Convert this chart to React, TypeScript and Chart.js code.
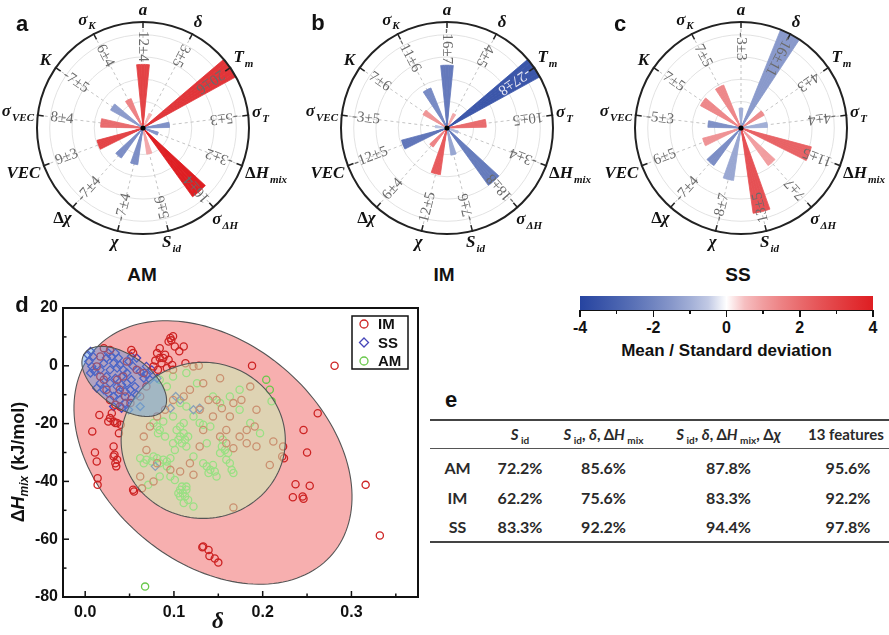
import React, { useEffect, useRef } from 'react';
import { Chart, registerables } from 'chart.js';
Chart.register(...registerables);

// ---------- Data ----------
const FEATURE_MAIN = ['a', 'δ', 'T', 'σ', 'ΔH', 'σ', 'S', 'χ', 'Δχ', 'VEC', 'σ', 'K', 'σ'];
const FEATURE_SUB = ['', '', 'm', 'T', 'mix', 'ΔH', 'id', '', '', '', 'VEC', '', 'K'];

const AM_MEAN = [12, 3, 20, -5, -3, 16, 5, -7, -7, 9, 8, -7, 6];
const AM_STD = [4, 5, 6, 3, 2, 4, 6, 4, 4, 3, 4, 5, 4];
const IM_MEAN = [-16, 4, -27, 10, -3, -18, -7, 12, 6, -12, -3, 7, -11];
const IM_STD = [7, 5, 8, 5, 4, 8, 6, 5, 4, 5, 5, 6, 6];
const SS_MEAN = [-3, -16, 4, -4, 11, 7, 13, -8, -7, 6, -5, 7, 7];
const SS_STD = [3, 11, 3, 4, 5, 7, 5, 7, 4, 5, 3, 5, 5];

const COLORBAR_MAJOR = [-4, -2, 0, 2, 4];
const COLORBAR_MINOR = [-3, -1, 1, 3];

const IM_POINTS: number[][] = [
  [0.281, 0], [0.316, -41.2], [0.332, -58.7], [0.262, -16.4], [0.246, -22.2], [0.25, -30], [0.253, -41.5],
  [0.245, -45.2], [0.246, -46], [0.234, -45.5], [0.237, -41], [0.223, -27.9], [0.222, -31.4], [0.224, -32],
  [0.188, 0], [0.167, -49], [0.132, -62.8], [0.139, -63.7], [0.14, -65.8], [0.146, -66.7], [0.15, -68.1], [0.133, -62.5],
  [0.008, -22.7], [0.011, -30], [0.013, -33.1], [0.014, -38.9], [0.014, -41.2], [0.016, -17], [0.054, -42.9], [0.055, -43.5],
  [0.032, -27.9], [0.033, -30.8], [0.034, -33.7], [0.035, -34.8], [0.036, -32.5], [0.032, -31.4], [0.034, -19.8],
  [0.03, -16.4], [0.028, -18.1], [0.026, -19.3], [0.032, -19.3], [0.038, -23.3], [0.036, -19.8], [0.04, -20.4],
  [0.096, 9.6], [0.099, 10.2], [0.094, 8.4], [0.097, 8.8], [0.081, 4.4], [0.084, 6.1], [0.079, 1.8], [0.084, 2.7],
  [0.088, 2.7], [0.09, 3.8], [0.094, 2.1], [0.098, 0.3], [0.086, 0.9], [0.101, 6.7], [0.106, 5.0], [0.111, 6.7],
  [0.113, 0.9], [0.077, -0.2], [0.082, -1.4], [0.092, -0.8], [0.099, -1.4], [0.021, 6.1], [0.028, 5.5], [0.052, 5.5], [0.054, 4.4],
  [0.122, -0.2], [0.128, 0], [0.133, -6], [0.152, -4.3], [0.167, -12.9], [0.176, -11.8], [0.186, -7.2], [0.193, -15.2],
  [0.191, -21], [0.193, -27.9], [0.182, -26.8], [0.174, -24.5], [0.163, -17.5], [0.159, -22.2], [0.154, -14.7],
  [0.148, -11.8], [0.139, -11.8], [0.144, -17.5], [0.133, -22.2], [0.129, -27.9], [0.118, -33.7], [0.122, -37.7],
  [0.107, -36.6], [0.096, -36], [0.081, -33.7], [0.069, -29.1], [0.066, -24.5], [0.073, -21], [0.081, -17.5],
  [0.09, -15.2], [0.099, -11.8], [0.111, -10.6], [0.118, -8.3], [0.129, -15.2], [0.062, -38.3], [0.064, -42.4],
  [0.077, -40], [0.159, -26.8], [0.167, -28.5], [0.152, -24.5], [0.208, -34.3], [0.212, -26.2], [0.182, -22.2],
  [0.017, 3.2], [0.013, -0.2], [0.017, -3.7], [0.024, -8.3], [0.028, -11.8], [0.034, -13.5], [0.039, -14.1],
  [0.051, -12.9], [0.062, -10.6], [0.069, -7.2], [0.066, -2.5], [0.058, -1.4], [0.047, 1.5], [0.039, -8.3],
  [0.045, -10.6], [0.021, -4.8], [0.036, -4.8], [0.043, -3.7],
];

const SS_POINTS: number[][] = [
  [0.003, 3.8], [0.006, 5], [0.009, 3.2], [0.004, 1.5], [0.0075, -0.2], [0.011, -2], [0.017, -1.4], [0.021, 0.9],
  [0.024, 2.7], [0.026, 4.4], [0.03, 3.2], [0.034, 4.4], [0.0375, 2.7], [0.032, 0.9], [0.028, -1.4], [0.036, -0.8],
  [0.039, 0.3], [0.043, -1.4], [0.047, -2.5], [0.041, -3.7], [0.034, -4.3], [0.028, -6], [0.024, -3.7], [0.036, -7.2],
  [0.041, -6.6], [0.047, -6], [0.052, -4.8], [0.056, -7.2], [0.051, -8.3], [0.045, -8.9], [0.0375, -9.5], [0.032, -10.6],
  [0.039, -11.8], [0.045, -12.9], [0.052, -11.2], [0.058, -10], [0.017, -6], [0.013, -7.7], [0.021, -8.3], [0.026, -9.5],
  [0.054, -0.2], [0.062, -2], [0.069, -0.2], [0.049, 1.5], [0.052, 3.2], [0.058, 2.7], [0.066, -4.3], [0.069, -3.1],
  [0.075, -1.4], [0.073, -4.8], [0.081, -4.3], [0.041, -14.7], [0.049, -15.2], [0.032, -14.1], [0.009, -1.4],
  [0.006, -2.5], [0.062, -14.1], [0.102, -10.6], [0.107, -11.8], [0.096, -14.7], [0.079, -34.8], [0.122, -15.2], [0.129, -14.7],
];

const AM_POINTS: number[][] = [
  [0.107, -42.9], [0.11, -44.1], [0.1125, -45.2], [0.114, -42.9], [0.107, -45.2], [0.111, -47.5], [0.109, -41.8],
  [0.116, -46.4], [0.122, -48.7], [0.105, -44.1], [0.114, -41.8],
  [0.103, -22.2], [0.107, -24.5], [0.111, -23.3], [0.1125, -25.6], [0.109, -26.8], [0.105, -25.6], [0.114, -27.9],
  [0.107, -21], [0.111, -19.8], [0.116, -24.5], [0.099, -26.8], [0.101, -29.1],
  [0.062, -32], [0.069, -32.5], [0.075, -33.1], [0.081, -32], [0.084, -33.7], [0.088, -32.5], [0.092, -33.1],
  [0.096, -32], [0.077, -31.4], [0.092, -34.8], [0.066, -33.7],
  [0.133, -33.7], [0.137, -34.8], [0.141, -36], [0.144, -34.3], [0.146, -36.6], [0.148, -38.3], [0.139, -37.1],
  [0.154, -27.9], [0.1575, -29.1], [0.161, -30.2], [0.159, -32.5], [0.163, -33.7], [0.165, -36], [0.167, -37.1],
  [0.155, -25.6], [0.152, -30.2],
  [0.077, -19.8], [0.081, -21], [0.084, -22.2], [0.088, -19.3], [0.082, -23.3], [0.09, -24.5],
  [0.084, -4.8], [0.092, -7.2], [0.099, -3.7], [0.114, -2.5], [0.126, -6], [0.144, -10.6], [0.152, -12.9],
  [0.163, -10.6], [0.174, -8.3], [0.204, -4.8], [0.208, -8.3], [0.21, -12.3], [0.174, -15.2], [0.186, -19.8],
  [0.197, -23.3], [0.129, -19.8], [0.133, -20.4], [0.141, -21], [0.122, -17.5], [0.114, -14.1], [0.107, -12.9],
  [0.099, -17.5], [0.137, -26.8], [0.122, -31.4], [0.096, -38.3], [0.084, -38.3], [0.071, -41.2], [0.101, -39.5],
  [0.0675, -76.4],
];

// ellipse: [centerX, centerY, axis1X, axis1Y, axis2X, axis2Y] in data units
const IM_ELLIPSE = [0.144, -30, 0.135, -35.0, -0.0795, -29.2];
const AM_ELLIPSE = [0.133, -25.8, 0.0925, 0, 0, 27];
const SS_ELLIPSE = [0.044, -5.4, 0.0447, -9.67, -0.01664, -7.32];

const X_TICKS = [0, 0.1, 0.2, 0.3];
const X_MINOR = [0.05, 0.15, 0.25, 0.35];
const Y_TICKS = [20, 0, -20, -40, -60, -80];
const Y_MINOR = [10, -10, -30, -50, -70];

const TABLE_ROWS = ['AM', 'IM', 'SS'];
const TABLE_VALUES = [
  ['72.2%', '85.6%', '87.8%', '95.6%'],
  ['62.2%', '75.6%', '83.3%', '92.2%'],
  ['83.3%', '92.2%', '94.4%', '97.8%'],
];

// ---------- helpers ----------
const BLUE_END = [38, 68, 160];
const RED_END = [222, 30, 34];
function ratioColor(r: number) {
  const t = Math.min(1, Math.abs(r) / 4);
  const s = Math.pow(t, 0.6);
  const e = r < 0 ? BLUE_END : RED_END;
  const c = e.map((v) => Math.round(255 + (v - 255) * s));
  return `rgb(${c[0]},${c[1]},${c[2]})`;
}

const SERIF = '"Liberation Serif", "Times New Roman", serif';
const SANS = 'Arial, "Liberation Sans", sans-serif';

function PolarPanel({ means, stds, left }: { means: number[]; stds: number[]; left: number }) {
  const ref = useRef<HTMLCanvasElement>(null);
  useEffect(() => {
    const canvas = ref.current!;
    const n = means.length;
    const slot = 360 / n;
    const SUBS = 12; // sub-slices per feature slot
    const WEDGE_SUBS = 5; // sub-slices used by a bar
    const subAngle = slot / SUBS;
    const maxAbs = Math.max(...means.map((v) => Math.abs(v)));
    const data: number[] = [];
    const colors: string[] = [];
    const borders: number[] = [];
    for (let i = 0; i < n; i++) {
      const col = ratioColor(means[i] / stds[i]);
      for (let j = 0; j < SUBS; j++) {
        const on = j < WEDGE_SUBS;
        data.push(on ? Math.abs(means[i]) : 0);
        colors.push(on ? col : 'rgba(0,0,0,0)');
        borders.push(on ? 0.8 : 0);
      }
    }
    const decor = {
      id: 'polarDecor',
      beforeDatasetsDraw(chart: any) {
        const s = chart.scales.r;
        const ctx = chart.ctx;
        const cx = s.xCenter, cy = s.yCenter, R = s.drawingArea;
        ctx.save();
        ctx.setLineDash([3, 3]);
        ctx.strokeStyle = '#c4c4c4';
        ctx.lineWidth = 1;
        for (let i = 0; i < n; i++) {
          const a = (i * slot * Math.PI) / 180;
          ctx.beginPath();
          ctx.moveTo(cx, cy);
          ctx.lineTo(cx + R * Math.sin(a), cy - R * Math.cos(a));
          ctx.stroke();
        }
        ctx.restore();
      },
      afterDatasetsDraw(chart: any) {
        const s = chart.scales.r;
        const ctx = chart.ctx;
        const cx = s.xCenter, cy = s.yCenter, R = s.drawingArea;
        ctx.save();
        ctx.beginPath();
        ctx.arc(cx, cy, R, 0, Math.PI * 2);
        ctx.lineWidth = 2;
        ctx.strokeStyle = '#222';
        ctx.stroke();
        for (let i = 0; i < n; i++) {
          const a = (i * slot * Math.PI) / 180;
          const sa = Math.sin(a), ca = Math.cos(a);
          ctx.beginPath();
          ctx.lineWidth = 1.5;
          ctx.strokeStyle = '#222';
          ctx.moveTo(cx + (R - 6) * sa, cy - (R - 6) * ca);
          ctx.lineTo(cx + (R + 1) * sa, cy - (R + 1) * ca);
          ctx.stroke();
          // value text along spoke
          const txt = `${means[i]}±${stds[i]}`;
          const tr = 0.77 * R;
          ctx.save();
          ctx.translate(cx + tr * sa, cy - tr * ca);
          ctx.rotate(Math.atan2(ca, -sa));
          ctx.font = `15px ${SERIF}`;
          ctx.textAlign = 'center';
          ctx.textBaseline = 'middle';
          const onDark = Math.abs(means[i]) / maxAbs > 0.7 && means[i] / stds[i] < -2;
          ctx.fillStyle = onDark ? '#e8e8f4' : '#6a6a6a';
          ctx.fillText(txt, 0, 0);
          ctx.restore();
          // feature label (Greek capital Delta upright, rest italic)
          const label = FEATURE_MAIN[i];
          const hasDelta = label.startsWith('Δ');
          const deltaPart = hasDelta ? 'Δ' : '';
          const restPart = hasDelta ? label.slice(1) : label;
          const deltaFont = `bold 17px ${SERIF}`;
          const mainFont = `italic bold 17px ${SERIF}`;
          const subFont = `italic bold 11px ${SERIF}`;
          ctx.font = deltaFont;
          const wd = deltaPart ? ctx.measureText(deltaPart).width : 0;
          ctx.font = mainFont;
          const wm = ctx.measureText(restPart).width;
          ctx.font = subFont;
          const ws = FEATURE_SUB[i] ? ctx.measureText(FEATURE_SUB[i]).width + 1 : 0;
          const w = wd + wm + ws;
          const h = 17;
          const d = R + 3 + (w / 2) * Math.abs(sa) + (h / 2) * Math.abs(ca);
          const lx = cx + d * sa - w / 2;
          const ly = cy - d * ca - (FEATURE_SUB[i] ? 1 : 0);
          ctx.fillStyle = '#111';
          ctx.textAlign = 'left';
          ctx.textBaseline = 'middle';
          if (deltaPart) {
            ctx.font = deltaFont;
            ctx.fillText(deltaPart, lx, ly);
          }
          ctx.font = mainFont;
          ctx.fillText(restPart, lx + wd, ly);
          if (FEATURE_SUB[i]) {
            ctx.font = subFont;
            ctx.fillText(FEATURE_SUB[i], lx + wd + wm + 1, ly + 6);
          }
        }
        ctx.beginPath();
        ctx.arc(cx, cy, 2.6, 0, Math.PI * 2);
        ctx.fillStyle = '#000';
        ctx.fill();
        ctx.restore();
      },
    };
    const chart = new Chart(canvas, {
      type: 'polarArea',
      data: {
        labels: data.map((_, i) => String(i)),
        datasets: [
          {
            data,
            backgroundColor: colors,
            borderColor: colors,
            borderWidth: borders,
          } as any,
        ],
      },
      options: {
        animation: false,
        responsive: false,
        maintainAspectRatio: false,
        layout: { padding: { left: 42, right: 42, top: 22, bottom: 28 } },
        plugins: { legend: { display: false }, tooltip: { enabled: false } },
        scales: {
          r: {
            min: 0,
            max: maxAbs,
            startAngle: -(WEDGE_SUBS / 2) * subAngle,
            ticks: { display: false },
            grid: { color: '#e2e2e2', lineWidth: 1 },
            angleLines: { display: false },
            pointLabels: { display: false },
            afterBuildTicks: (sc: any) => {
              sc.ticks = [0, 0.25, 0.46, 0.67, 0.88].map((f) => ({ value: f * maxAbs }));
            },
          } as any,
        },
      } as any,
      plugins: [decor],
    });
    return () => chart.destroy();
  }, [means, stds]);
  return (
    <canvas
      ref={ref}
      width={296}
      height={262}
      style={{ position: 'absolute', left, top: 0, width: 296, height: 262 }}
    />
  );
}

function drawEllipse(chart: any, e: number[], fill: string) {
  const xs = chart.scales.x, ys = chart.scales.y;
  const ctx = chart.ctx;
  ctx.save();
  ctx.beginPath();
  for (let k = 0; k <= 160; k++) {
    const t = (k / 160) * Math.PI * 2;
    const x = e[0] + e[2] * Math.cos(t) + e[4] * Math.sin(t);
    const y = e[1] + e[3] * Math.cos(t) + e[5] * Math.sin(t);
    const px = xs.getPixelForValue(x), py = ys.getPixelForValue(y);
    if (k === 0) ctx.moveTo(px, py);
    else ctx.lineTo(px, py);
  }
  ctx.closePath();
  ctx.fillStyle = fill;
  ctx.fill();
  ctx.strokeStyle = '#555';
  ctx.lineWidth = 1.1;
  ctx.stroke();
  ctx.restore();
}

function ScatterPanel() {
  const ref = useRef<HTMLCanvasElement>(null);
  useEffect(() => {
    const canvas = ref.current!;
    const deco = {
      id: 'scatterDeco',
      beforeDatasetsDraw(chart: any) {
        drawEllipse(chart, IM_ELLIPSE, 'rgba(238,80,80,0.46)');
      },
      afterDatasetsDraw(chart: any) {
        drawEllipse(chart, AM_ELLIPSE, 'rgba(200,245,185,0.52)');
        drawEllipse(chart, SS_ELLIPSE, 'rgba(80,145,220,0.42)');
      },
      afterDraw(chart: any) {
        const ctx = chart.ctx;
        const a = chart.chartArea;
        const xs = chart.scales.x, ys = chart.scales.y;
        ctx.save();
        ctx.strokeStyle = '#111';
        ctx.lineWidth = 2;
        ctx.strokeRect(a.left, a.top, a.right - a.left, a.bottom - a.top);
        ctx.lineWidth = 1.5;
        const tick = (x1: number, y1: number, x2: number, y2: number) => {
          ctx.beginPath();
          ctx.moveTo(x1, y1);
          ctx.lineTo(x2, y2);
          ctx.stroke();
        };
        X_TICKS.forEach((v) => { const p = xs.getPixelForValue(v); tick(p, a.bottom, p, a.bottom - 6); });
        X_MINOR.forEach((v) => { const p = xs.getPixelForValue(v); tick(p, a.bottom, p, a.bottom - 3.5); });
        Y_TICKS.forEach((v) => { const p = ys.getPixelForValue(v); tick(a.left, p, a.left + 6, p); });
        Y_MINOR.forEach((v) => { const p = ys.getPixelForValue(v); tick(a.left, p, a.left + 3.5, p); });
        // legend box
        const bw = 56, bh = 53;
        const bx = a.right - 10 - bw, by = a.top + 8;
        ctx.lineWidth = 1.5;
        ctx.strokeStyle = '#111';
        ctx.fillStyle = '#fff';
        ctx.fillRect(bx, by, bw, bh);
        ctx.strokeRect(bx, by, bw, bh);
        chart.data.datasets.forEach((ds: any, i: number) => {
          const yy = by + 8 + i * 18.5;
          const mx = bx + 12;
          ctx.strokeStyle = ds.pointBorderColor;
          ctx.lineWidth = 1.3;
          ctx.beginPath();
          if (ds.pointStyle === 'rectRot') {
            ctx.moveTo(mx, yy - 4.5); ctx.lineTo(mx + 4.5, yy); ctx.lineTo(mx, yy + 4.5); ctx.lineTo(mx - 4.5, yy); ctx.closePath();
          } else {
            ctx.arc(mx, yy, 4, 0, Math.PI * 2);
          }
          ctx.stroke();
          ctx.fillStyle = '#111';
          ctx.font = `bold 15px ${SANS}`;
          ctx.textAlign = 'left';
          ctx.textBaseline = 'middle';
          ctx.fillText(ds.label, bx + 26, yy + 1);
        });
        ctx.restore();
      },
    };
    const mk = (pts: number[][]) => pts.map(([x, y]) => ({ x, y }));
    const chart = new Chart(canvas, {
      type: 'scatter',
      data: {
        datasets: [
          { label: 'IM', data: mk(IM_POINTS), pointStyle: 'circle', pointRadius: 3.6, pointBorderColor: 'rgb(205,35,35)', pointBackgroundColor: 'rgba(0,0,0,0)', pointBorderWidth: 1.3 },
          { label: 'SS', data: mk(SS_POINTS), pointStyle: 'rectRot', pointRadius: 4, pointBorderColor: 'rgb(70,70,185)', pointBackgroundColor: 'rgba(0,0,0,0)', pointBorderWidth: 1.3 },
          { label: 'AM', data: mk(AM_POINTS), pointStyle: 'circle', pointRadius: 3.6, pointBorderColor: 'rgb(105,200,75)', pointBackgroundColor: 'rgba(0,0,0,0)', pointBorderWidth: 1.3 },
        ] as any,
      },
      options: {
        animation: false,
        responsive: false,
        maintainAspectRatio: false,
        layout: { padding: { top: 18, right: 12, left: 0, bottom: 0 } },
        plugins: { legend: { display: false }, tooltip: { enabled: false } },
        scales: {
          x: {
            type: 'linear',
            min: -0.025,
            max: 0.375,
            grid: { display: false, drawTicks: false },
            border: { display: false },
            afterBuildTicks: (s: any) => { s.ticks = X_TICKS.map((v) => ({ value: v })); },
            afterFit: (s: any) => { s.height = 38; },
            ticks: { padding: 6, autoSkip: false, maxRotation: 0, color: '#111', font: { family: SANS, size: 16, weight: 'bold' }, callback: (v: any) => Number(v).toFixed(1) },
          },
          y: {
            type: 'linear',
            min: -80,
            max: 20,
            grid: { display: false, drawTicks: false },
            border: { display: false },
            afterBuildTicks: (s: any) => { s.ticks = Y_TICKS.map((v) => ({ value: v })); },
            afterFit: (s: any) => { s.width = 63; },
            ticks: { padding: 5, autoSkip: false, color: '#111', font: { family: SANS, size: 16, weight: 'bold' }, callback: (v: any) => String(v) },
          },
        },
      } as any,
      plugins: [deco],
    });
    return () => chart.destroy();
  }, []);
  return (
    <canvas ref={ref} width={430} height={345} style={{ position: 'absolute', left: 0, top: 290, width: 430, height: 345 }} />
  );
}

function Colorbar() {
  const x0 = 580, x1 = 873, top = 296, h = 14;
  const stops: string[] = [];
  for (let v = -4; v <= 4.001; v += 0.5) {
    stops.push(`${ratioColor(v)} ${((v + 4) / 8) * 100}%`);
  }
  const px = (v: number) => x0 + ((v + 4) / 8) * (x1 - x0);
  return (
    <>
      <div style={{ position: 'absolute', left: x0, top, width: x1 - x0, height: h, background: `linear-gradient(to right, ${stops.join(', ')})`, borderBottom: '1.5px solid #111' }} />
      {COLORBAR_MAJOR.map((v) => (
        <React.Fragment key={'M' + v}>
          <div style={{ position: 'absolute', left: px(v) - 0.75, top: top + h, width: 1.5, height: 7, background: '#111' }} />
          <div style={{ position: 'absolute', left: px(v) - 20, top: top + h + 9, width: 40, textAlign: 'center', font: `bold 16px ${SANS}`, color: '#111' }}>{String(v)}</div>
        </React.Fragment>
      ))}
      {COLORBAR_MINOR.map((v) => (
        <div key={'m' + v} style={{ position: 'absolute', left: px(v) - 0.75, top: top + h, width: 1.5, height: 4, background: '#111' }} />
      ))}
      <div style={{ position: 'absolute', left: x0 - 20, top: 341, width: x1 - x0 + 40, textAlign: 'center', font: `bold 17px ${SANS}`, color: '#111' }}>Mean / Standard deviation</div>
    </>
  );
}

const subStyle: React.CSSProperties = { fontSize: 10, verticalAlign: 'sub', lineHeight: 0 };

function ResultTable() {
  const TABLE_FONT = 'Lato, "Open Sans", sans-serif';
  const colW = [55, 70, 97, 153, 86];
  const cell: React.CSSProperties = { textAlign: 'center', padding: 0, whiteSpace: 'nowrap' };
  const header = [
    '',
    <span><i>S</i><span style={subStyle}> id</span></span>,
    <span><i>S</i><span style={subStyle}> id</span>, <i>δ</i>, Δ<i>H</i><span style={subStyle}> mix</span></span>,
    <span><i>S</i><span style={subStyle}> id</span>, <i>δ</i>, Δ<i>H</i><span style={subStyle}> mix</span>, Δ<i>χ</i></span>,
    '13 features',
  ];
  return (
    <table style={{ position: 'absolute', left: 430, top: 419, width: 461, borderCollapse: 'collapse', tableLayout: 'fixed', font: `bold 15px ${TABLE_FONT}`, color: '#2a2a2a' }}>
      <colgroup>{colW.map((w, i) => <col key={i} style={{ width: w }} />)}</colgroup>
      <thead>
        <tr style={{ borderTop: '2px solid #444', borderBottom: '1.5px solid #555', height: 28 }}>
          {header.map((h, i) => (
            <th key={i} style={{ ...cell, fontWeight: 'bold', textAlign: i === 4 ? 'left' : 'center', paddingLeft: i === 4 ? 3 : 0 }}>{h}</th>
          ))}
        </tr>
      </thead>
      <tbody>
        {TABLE_ROWS.map((r, ri) => (
          <tr key={r} style={{ height: ri === 0 ? 34 : 30, borderBottom: ri === TABLE_ROWS.length - 1 ? '2px solid #444' : 'none' }}>
            <td style={{ ...cell, paddingTop: ri === 0 ? 4 : 0, fontSize: 16 }}>{r}</td>
            {TABLE_VALUES[ri].map((v, ci) => (
              <td key={ci} style={{ ...cell, paddingTop: ri === 0 ? 4 : 0, fontSize: 16 }}>{v}</td>
            ))}
          </tr>
        ))}
      </tbody>
    </table>
  );
}

export default function App() {
  const letter = (t: string, x: number, y: number) => (
    <div style={{ position: 'absolute', left: x - 10, top: y - 13, width: 20, textAlign: 'center', font: `bold 22px ${SANS}`, color: '#111' }}>{t}</div>
  );
  const title = (t: string, x: number) => (
    <div style={{ position: 'absolute', left: x - 40, top: 264, width: 80, textAlign: 'center', font: `bold 19px ${SANS}`, color: '#111' }}>{t}</div>
  );
  return (
    <div style={{ position: 'absolute', left: 0, top: 0, width: 889, height: 635, overflow: 'hidden', background: '#fff' }}>
      <PolarPanel means={AM_MEAN} stds={AM_STD} left={-5} />
      <PolarPanel means={IM_MEAN} stds={IM_STD} left={299} />
      <PolarPanel means={SS_MEAN} stds={SS_STD} left={593} />
      {letter('a', 22, 24)}
      {letter('b', 318, 23)}
      {letter('c', 620, 24)}
      {title('AM', 142)}
      {title('IM', 444)}
      {title('SS', 738)}
      <Colorbar />
      <ScatterPanel />
      {letter('d', 22, 305)}
      <div style={{ position: 'absolute', left: 18, top: 462, transform: 'translate(-50%, -50%) rotate(-90deg)', whiteSpace: 'nowrap', font: `bold 18px ${SANS}`, color: '#111' }}>
        Δ<i>H</i><span style={{ fontSize: 12, fontStyle: 'italic', verticalAlign: 'sub', lineHeight: 0 }}>mix</span> (kJ/mol)
      </div>
      <div style={{ position: 'absolute', left: 198, top: 608, width: 40, textAlign: 'center', font: `italic bold 23px ${SERIF}`, color: '#111', lineHeight: '26px' }}>δ</div>
      {letter('e', 451, 400)}
      <ResultTable />
    </div>
  );
}
